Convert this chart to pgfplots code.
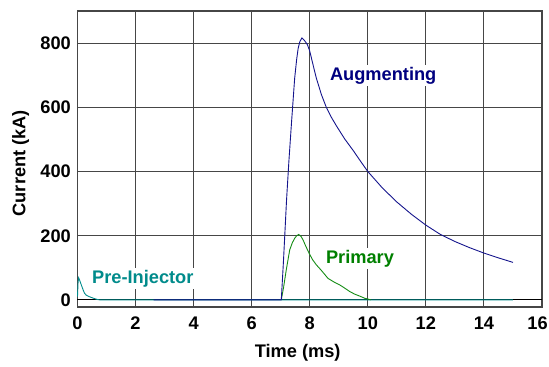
\documentclass[border=0pt]{standalone}
\usepackage{pgfplots}
\pgfplotsset{compat=1.18}
\usepackage{fontspec}
\setmainfont{Liberation Sans}
\definecolor{augc}{RGB}{20,20,140}
\definecolor{augt}{RGB}{0,0,128}
\definecolor{primc}{RGB}{20,140,20}
\definecolor{primt}{RGB}{0,128,0}
\definecolor{prec}{RGB}{0,140,140}
\definecolor{pret}{RGB}{0,139,139}
\definecolor{gridc}{RGB}{70,70,70}
\newcommand{\lf}{\fontsize{18.3}{21}\selectfont\bfseries}
\begin{document}
\begin{tikzpicture}
\begin{axis}[
  at={(0,0)}, anchor=south west,
  scale only axis,
  width=464.5bp, height=296bp,
  xmin=0, xmax=16, ymin=-22, ymax=900,
  xtick={0,2,...,16},
  xticklabels={0,2,4,6,8,10,12,14,{\hspace*{-9bp}16}},
  ytick={0,200,...,800},
  grid=major,
  major grid style={draw=gridc, line width=1.1bp},
  axis line style={draw=gridc, line width=1.2bp},
  major tick length=0pt,
  /pgf/number format/assume math mode=true,
  tick label style={font=\lf},
  xticklabel style={inner sep=0pt, anchor=north, yshift=-9.5bp},
  yticklabel style={inner sep=0pt, anchor=east, xshift=-6.5bp},
  label style={font=\lf},
  xlabel={Time (ms)},
  ylabel={Current (kA)},
  xlabel style={at={(axis description cs:0.474,-0.1713)}, anchor=base, inner sep=0pt},
  ylabel style={at={(axis description cs:-0.1121,0.486)}, anchor=base, inner sep=0pt},
  clip=false,
]
% zero line in black
\addplot[black, line width=1bp] coordinates {(0,0) (16,0)};
% labels (white background interrupts the grid)
\node[fill=white, inner sep=2bp, anchor=base, text=augt, font=\lf] at (axis cs:10.53,685) {Augmenting};
\node[fill=white, inner sep=2bp, anchor=base, text=primt, font=\lf] at (axis cs:9.73,114) {Primary};
\node[fill=white, inner sep=2bp, anchor=base, text=pret, font=\lf] at (axis cs:2.25,52) {Pre-Injector};
% Pre-Injector
\addplot[prec, line width=0.9bp] coordinates {
(0,10) (0.02,55) (0.04,69) (0.08,60) (0.13,47) (0.2,30) (0.24,21) (0.3,15)
(0.41,10) (0.5,7) (0.59,4) (0.7,1) (0.8,0) (15,0)};
% Primary
\addplot[primc, line width=0.9bp] coordinates {
(7.02,0) (7.1,40) (7.19,93) (7.31,156) (7.4,178) (7.48,192) (7.55,200) (7.62,204)
(7.7,198) (7.77,187) (7.85,170) (7.98,145) (8.1,125) (8.23,109) (8.4,92) (8.63,67)
(8.85,55) (9.03,47) (9.2,37) (9.38,26) (9.55,18) (9.72,12) (9.9,5) (10.04,2) (10.1,0)};
% Augmenting
\addplot[augc, line width=0.9bp] coordinates {
(2.62,0) (7.02,0) (7.1,130) (7.14,202) (7.2,310) (7.28,430) (7.37,550) (7.48,690)
(7.55,750) (7.6,783) (7.66,805) (7.73,816) (7.82,808) (7.92,795) (8.0,775) (8.12,730)
(8.23,690) (8.4,640) (8.57,600) (8.75,568) (8.92,542) (9.2,502) (9.5,465) (9.75,432)
(10,400) (10.5,349) (11,305) (11.5,267) (12,233) (12.5,204) (13,182) (13.5,163)
(14,146) (14.5,131) (15,117)};
\end{axis}
\pgfresetboundingbox
\useasboundingbox (-77.5bp,-60bp) rectangle (471.5bp,307bp);
\end{tikzpicture}
\end{document}
